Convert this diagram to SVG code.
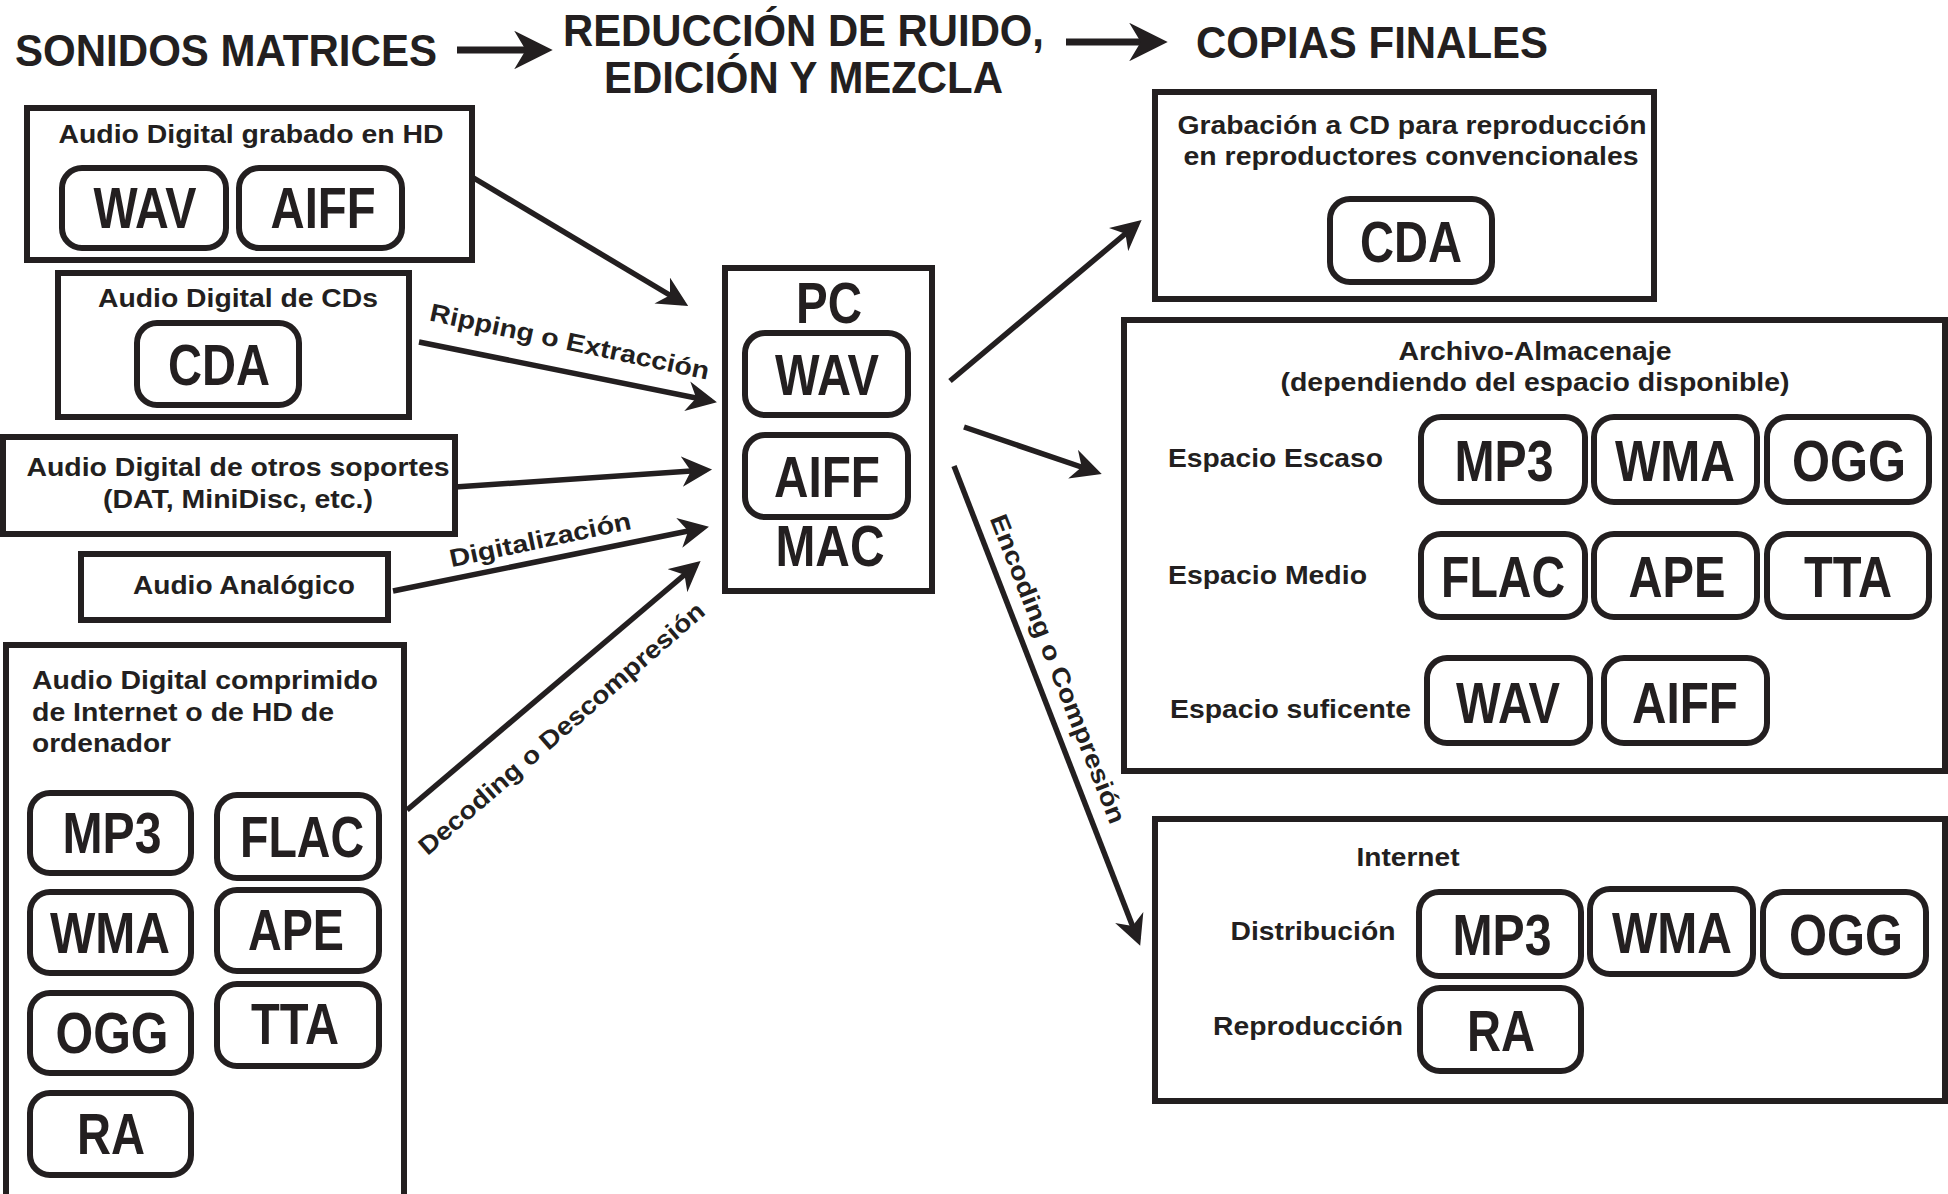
<svg xmlns="http://www.w3.org/2000/svg" width="1948" height="1194" viewBox="0 0 1948 1194">
<style>
text{font-family:"Liberation Sans",Arial,Helvetica,sans-serif;font-weight:bold;fill:#231f20}
.h{font-size:45px}
.l{font-size:25px}
.p{font-size:57px;text-anchor:middle}
.c{text-anchor:middle}
.box{fill:#fff;stroke:#231f20;stroke-width:6}
.pill{fill:#fff;stroke:#231f20;stroke-width:6}
.ar{stroke:#231f20;stroke-width:5.5;fill:none;marker-end:url(#ah)}
.ah2{stroke:#231f20;stroke-width:7;fill:none;marker-end:url(#ah)}
</style>
<defs>
<marker id="ah" viewBox="0 0 10 10" refX="8" refY="5" markerWidth="5.5" markerHeight="5.5" orient="auto" markerUnits="strokeWidth">
<path d="M0,0 L10,5 L0,10 L3,5 z" fill="#231f20"/>
</marker>
</defs>
<rect width="1948" height="1194" fill="#fff"/>

<g id="headers">
<text class="h" x="15" y="66" textLength="422" lengthAdjust="spacingAndGlyphs">SONIDOS MATRICES</text>
<text class="h" x="563" y="46" textLength="481" lengthAdjust="spacingAndGlyphs">REDUCCIÓN DE RUIDO,</text>
<text class="h" x="604" y="93" textLength="399" lengthAdjust="spacingAndGlyphs">EDICIÓN Y MEZCLA</text>
<text class="h" x="1196" y="58" textLength="352" lengthAdjust="spacingAndGlyphs">COPIAS FINALES</text>
</g>

<g id="connectors">
<line class="ah2" x1="457" y1="50" x2="545" y2="50"/>
<line class="ah2" x1="1066" y1="42" x2="1160" y2="42"/>
<line class="ar" x1="472" y1="177" x2="683" y2="303"/>
<line class="ar" x1="419" y1="342" x2="711" y2="401"/>
<line class="ar" x1="455" y1="487" x2="706" y2="470"/>
<line class="ar" x1="393" y1="591" x2="703" y2="528"/>
<line class="ar" x1="407" y1="810" x2="696" y2="565"/>
<line class="ar" x1="950" y1="381" x2="1137" y2="224"/>
<line class="ar" x1="964" y1="427" x2="1096" y2="472"/>
<line class="ar" x1="954" y1="466" x2="1138" y2="940"/>
<text class="l c" transform="translate(568,350) rotate(12)" textLength="285" lengthAdjust="spacingAndGlyphs">Ripping o Extracción</text>
<text class="l c" transform="translate(542,548) rotate(-12)" textLength="185" lengthAdjust="spacingAndGlyphs">Digitalización</text>
<text class="l c" transform="translate(567,735) rotate(-41)" textLength="370" lengthAdjust="spacingAndGlyphs">Decoding o Descompresión</text>
<text class="l c" transform="translate(1050,672) rotate(68.5)" textLength="330" lengthAdjust="spacingAndGlyphs">Encoding o Compresión</text>
</g>

<g id="src-hd">
<rect class="box" x="27" y="108" width="445" height="152"/>
<text class="l c" x="251" y="143" textLength="385" lengthAdjust="spacingAndGlyphs">Audio Digital grabado en HD</text>
<rect class="pill" x="62" y="168" width="164" height="80" rx="20"/>
<text class="p" x="145" y="228" textLength="103" lengthAdjust="spacingAndGlyphs">WAV</text>
<rect class="pill" x="239" y="168" width="163" height="80" rx="20"/>
<text class="p" x="323" y="228" textLength="105" lengthAdjust="spacingAndGlyphs">AIFF</text>
</g>

<g id="src-cd">
<rect class="box" x="58" y="273" width="351" height="144"/>
<text class="l c" x="238" y="307" textLength="280" lengthAdjust="spacingAndGlyphs">Audio Digital de CDs</text>
<rect class="pill" x="137" y="323" width="162" height="82" rx="20"/>
<text class="p" x="219" y="385" textLength="102" lengthAdjust="spacingAndGlyphs">CDA</text>
</g>

<g id="src-otros">
<rect class="box" x="3" y="437" width="452" height="97"/>
<text class="l c" x="238" y="476" textLength="423" lengthAdjust="spacingAndGlyphs">Audio Digital de otros soportes</text>
<text class="l c" x="238" y="508" textLength="270" lengthAdjust="spacingAndGlyphs">(DAT, MiniDisc, etc.)</text>
</g>

<g id="src-analog">
<rect class="box" x="81" y="554" width="307" height="66"/>
<text class="l c" x="244" y="594" textLength="222" lengthAdjust="spacingAndGlyphs">Audio Analógico</text>
</g>

<g id="src-comp">
<rect class="box" x="6" y="645" width="398" height="560"/>
<text class="l" x="32" y="689" textLength="346" lengthAdjust="spacingAndGlyphs">Audio Digital comprimido</text>
<text class="l" x="32" y="721" textLength="302" lengthAdjust="spacingAndGlyphs">de Internet o de HD de</text>
<text class="l" x="32" y="752" textLength="139" lengthAdjust="spacingAndGlyphs">ordenador</text>
<rect class="pill" x="30" y="793" width="161" height="80" rx="20"/>
<text class="p" x="112" y="853" textLength="99" lengthAdjust="spacingAndGlyphs">MP3</text>
<rect class="pill" x="217" y="795" width="162" height="83" rx="20"/>
<text class="p" x="302" y="857" textLength="124" lengthAdjust="spacingAndGlyphs">FLAC</text>
<rect class="pill" x="30" y="892" width="161" height="81" rx="20"/>
<text class="p" x="110" y="953" textLength="120" lengthAdjust="spacingAndGlyphs">WMA</text>
<rect class="pill" x="217" y="890" width="162" height="81" rx="20"/>
<text class="p" x="296" y="950" textLength="96" lengthAdjust="spacingAndGlyphs">APE</text>
<rect class="pill" x="30" y="993" width="161" height="80" rx="20"/>
<text class="p" x="112" y="1053" textLength="113" lengthAdjust="spacingAndGlyphs">OGG</text>
<rect class="pill" x="217" y="984" width="162" height="82" rx="20"/>
<text class="p" x="295" y="1044" textLength="88" lengthAdjust="spacingAndGlyphs">TTA</text>
<rect class="pill" x="30" y="1093" width="161" height="82" rx="20"/>
<text class="p" x="111" y="1154" textLength="68" lengthAdjust="spacingAndGlyphs">RA</text>
</g>

<g id="pc-mac">
<rect class="box" x="725" y="268" width="207" height="323"/>
<text class="p" x="829" y="323" textLength="66" lengthAdjust="spacingAndGlyphs" font-size="50">PC</text>
<rect class="pill" x="745" y="333" width="163" height="82" rx="20"/>
<text class="p" x="827" y="395" textLength="104" lengthAdjust="spacingAndGlyphs">WAV</text>
<rect class="pill" x="745" y="435" width="163" height="82" rx="20"/>
<text class="p" x="827" y="497" textLength="106" lengthAdjust="spacingAndGlyphs">AIFF</text>
<text class="p" x="830" y="566" textLength="109" lengthAdjust="spacingAndGlyphs" font-size="50">MAC</text>
</g>

<g id="out-cd">
<rect class="box" x="1155" y="92" width="499" height="207"/>
<text class="l c" x="1412" y="134" textLength="469" lengthAdjust="spacingAndGlyphs">Grabación a CD para reproducción</text>
<text class="l c" x="1411" y="165" textLength="455" lengthAdjust="spacingAndGlyphs">en reproductores convencionales</text>
<rect class="pill" x="1330" y="199" width="162" height="83" rx="20"/>
<text class="p" x="1411" y="262" textLength="102" lengthAdjust="spacingAndGlyphs">CDA</text>
</g>

<g id="out-archivo">
<rect class="box" x="1124" y="320" width="821" height="451"/>
<text class="l c" x="1535" y="360" textLength="273" lengthAdjust="spacingAndGlyphs">Archivo-Almacenaje</text>
<text class="l c" x="1535" y="391" textLength="509" lengthAdjust="spacingAndGlyphs">(dependiendo del espacio disponible)</text>
<text class="l" x="1168" y="467" textLength="215" lengthAdjust="spacingAndGlyphs">Espacio Escaso</text>
<text class="l" x="1168" y="584" textLength="199" lengthAdjust="spacingAndGlyphs">Espacio Medio</text>
<text class="l" x="1170" y="718" textLength="241" lengthAdjust="spacingAndGlyphs">Espacio suficente</text>
<rect class="pill" x="1421" y="417" width="164" height="85" rx="20"/>
<text class="p" x="1504" y="481" textLength="99" lengthAdjust="spacingAndGlyphs">MP3</text>
<rect class="pill" x="1594" y="417" width="163" height="85" rx="20"/>
<text class="p" x="1675" y="481" textLength="120" lengthAdjust="spacingAndGlyphs">WMA</text>
<rect class="pill" x="1767" y="417" width="162" height="85" rx="20"/>
<text class="p" x="1849" y="481" textLength="114" lengthAdjust="spacingAndGlyphs">OGG</text>
<rect class="pill" x="1421" y="534" width="164" height="83" rx="20"/>
<text class="p" x="1503" y="597" textLength="124" lengthAdjust="spacingAndGlyphs">FLAC</text>
<rect class="pill" x="1594" y="534" width="163" height="83" rx="20"/>
<text class="p" x="1677" y="597" textLength="97" lengthAdjust="spacingAndGlyphs">APE</text>
<rect class="pill" x="1767" y="534" width="162" height="83" rx="20"/>
<text class="p" x="1848" y="597" textLength="88" lengthAdjust="spacingAndGlyphs">TTA</text>
<rect class="pill" x="1427" y="658" width="163" height="85" rx="20"/>
<text class="p" x="1508" y="723" textLength="104" lengthAdjust="spacingAndGlyphs">WAV</text>
<rect class="pill" x="1604" y="658" width="163" height="85" rx="20"/>
<text class="p" x="1685" y="723" textLength="106" lengthAdjust="spacingAndGlyphs">AIFF</text>
</g>

<g id="out-internet">
<rect class="box" x="1155" y="819" width="790" height="282"/>
<text class="l c" x="1408" y="866" textLength="103" lengthAdjust="spacingAndGlyphs">Internet</text>
<text class="l c" x="1313" y="940" textLength="165" lengthAdjust="spacingAndGlyphs">Distribución</text>
<text class="l c" x="1308" y="1035" textLength="190" lengthAdjust="spacingAndGlyphs">Reproducción</text>
<rect class="pill" x="1419" y="892" width="162" height="84" rx="20"/>
<text class="p" x="1502" y="955" textLength="99" lengthAdjust="spacingAndGlyphs">MP3</text>
<rect class="pill" x="1590" y="889" width="163" height="85" rx="20"/>
<text class="p" x="1672" y="953" textLength="120" lengthAdjust="spacingAndGlyphs">WMA</text>
<rect class="pill" x="1763" y="892" width="163" height="84" rx="20"/>
<text class="p" x="1846" y="955" textLength="114" lengthAdjust="spacingAndGlyphs">OGG</text>
<rect class="pill" x="1420" y="988" width="161" height="83" rx="20"/>
<text class="p" x="1501" y="1051" textLength="68" lengthAdjust="spacingAndGlyphs">RA</text>
</g>
</svg>
